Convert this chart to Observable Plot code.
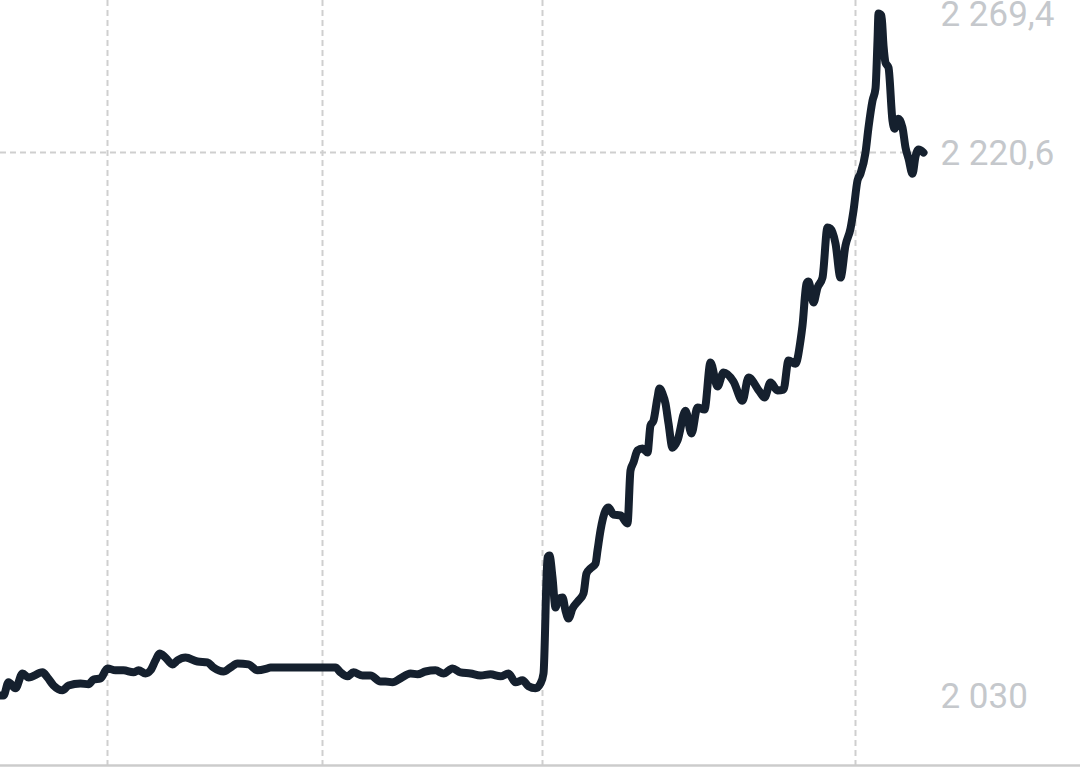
<!DOCTYPE html>
<html>
<head>
<meta charset="utf-8">
<script src="https://cdn.jsdelivr.net/npm/d3@7"></script>
<script src="https://cdn.jsdelivr.net/npm/@observablehq/plot@0.6"></script>
<style>
  html, body { margin: 0; padding: 0; background: #ffffff; }
  #chart svg { display: block; overflow: visible; }
</style>
</head>
<body>
<div id="chart"></div>
<script>
// time position (session units) and price values
const t = [0,3,8,15,22,28,42,47,53,62,68,80,88,93,100,107,115,123,133,138,145,150,155,159,165,172,177,185,197,207,213,223,230,237,248,257,267,
  270,290,320,335,340,347,353,362,370,380,385,392,400,410,417,425,435,443,452,460,470,480,490,500,508,515,522,528,535,540,543,
  547,549,552,555,558,562,565,568,572,578,583,586,590,595,597,600,605,608,613,620,627,630,633,637,642,647,650,653,657,659,662,665,668,672,
  677,685,691,697,704,710,717,723,733,742,748,759,764,770,777,783,788,795,800,802,806,808,813,817,822,827,830,835,840,845,850,853,857,860,
  865,868,872,875,877,878,881,883,885,888,892,894,898,902,905,908,912,915,918,923];
const price = [2030.0,2030.0,2034.6,2032.5,2037.7,2036.3,2038.1,2036.3,2033.5,2031.8,2033.5,2034.2,2033.9,2035.6,2036.0,2039.5,2038.8,2038.8,2038.1,2038.8,2037.7,2038.8,2042.3,2044.7,2043.3,2040.9,2042.3,2043.3,2041.9,2041.6,2039.8,2038.4,2039.8,2041.2,2040.9,2038.8,2039.5,
  2039.8,2039.8,2039.8,2039.8,2038.1,2036.7,2038.1,2037.0,2037.0,2034.9,2034.9,2034.6,2036.0,2037.7,2037.4,2038.4,2038.8,2037.7,2039.5,2038.1,2037.7,2037.0,2037.4,2036.7,2037.7,2034.6,2035.3,2033.2,2032.5,2034.2,2037.7,
  2078.4,2079.1,2071.4,2060.9,2064.0,2064.4,2059.8,2057.0,2060.5,2063.3,2065.8,2072.8,2074.6,2076.3,2080.9,2087.9,2094.9,2096.0,2093.5,2093.2,2090.4,2109.0,2111.8,2116.0,2116.7,2115.3,2124.8,2126.5,2134.6,2137.8,2136.0,2132.5,2125.5,2117.0,
  2119.5,2130.0,2122.0,2131.1,2130.4,2146.9,2138.5,2143.4,2140.2,2133.5,2141.6,2136.7,2134.6,2139.9,2137.1,2137.4,2147.6,2146.5,2154.6,2159.9,2174.6,2175.3,2168.0,2173.2,2176.7,2194.3,2193.9,2188.7,2176.7,2188.0,2193.9,2200.2,2210.8,2213.2,
  2220.6,2229.4,2238.8,2243.1,2259.9,2269.4,2268.7,2258.2,2252.2,2250.4,2231.8,2229.0,2232.5,2229.4,2222.4,2218.5,2213.2,2219.2,2221.7,2220.6];

const gridT = [107, 322, 542, 855];
const yTicks = [2030, 2220.6, 2269.4];
const yGrid = [2220.6];
const xDomain = [0, 1080];
const yDomain = [2005.4, 2274.0];

const data = t.map((d, i) => ({t: d, price: price[i]}));
const loc = d3.formatLocale({decimal: ",", thousands: "\u00a0", grouping: [3], currency: ["", ""]});
const fmt = loc.format(",.1~f");
const lastT = t[t.length - 1];

const chart = Plot.plot({
  width: 1080,
  height: 780,
  marginTop: 0,
  marginBottom: 15,
  marginLeft: 0,
  marginRight: 0,
  style: {fontFamily: "Roboto, sans-serif", background: "#ffffff"},
  x: {domain: xDomain, axis: null},
  y: {domain: yDomain, axis: null},
  marks: [
    Plot.ruleX(gridT, {stroke: "#cfcfcf", strokeWidth: 2, strokeDasharray: "6,4"}),
    Plot.ruleY(yGrid, {x1: xDomain[0], x2: lastT, stroke: "#cfcfcf", strokeWidth: 2, strokeDasharray: "6,4"}),
    Plot.ruleY([yDomain[0]], {stroke: "#cccccc", strokeWidth: 2.5}),
    Plot.axisY(yTicks, {
      anchor: "right",
      label: null,
      tickSize: 0,
      tickPadding: 0,
      tickFormat: fmt,
      textAnchor: "start",
      dx: -140,
      dy: 1,
      fontSize: 35,
      fill: "#c5c8cc",
      stroke: null
    }),
    Plot.line(data, {x: "t", y: "price", curve: "monotone-x", stroke: "#15202e", strokeWidth: 8, strokeLinejoin: "round", strokeLinecap: "round"})
  ]
});
document.getElementById("chart").appendChild(chart);
</script>
</body>
</html>
